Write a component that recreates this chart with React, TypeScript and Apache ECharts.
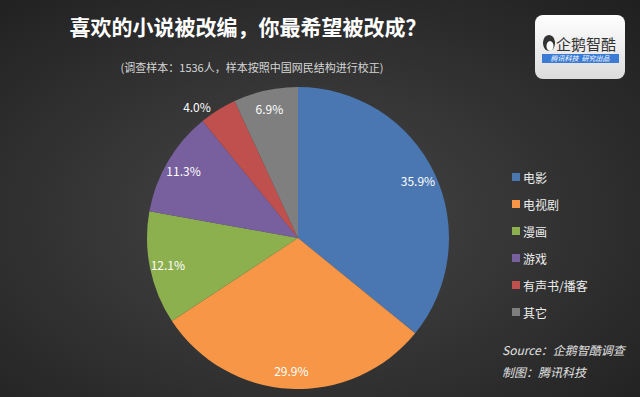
import React, { useEffect, useRef } from "react";
import * as echarts from "echarts";

const categories = ["电影", "电视剧", "漫画", "游戏", "有声书/播客", "其它"];
const values = [35.9, 29.9, 12.1, 11.3, 4.0, 6.9];
const colors = ["#4a77b1", "#f79646", "#8db04f", "#785f9e", "#c0504d", "#7f7f7f"];

const title = "喜欢的小说被改编，你最希望被改成？";
const subtitle = "(调查样本：1536人，样本按照中国网民结构进行校正)";
const sourceLine = "Source：企鹅智酷调查";
const madeBy = "制图：腾讯科技";

export default function App() {
  const ref = useRef<HTMLDivElement>(null);
  useEffect(() => {
    if (!ref.current) return;
    const chart = echarts.init(ref.current, null, { renderer: "svg" });
    const center = [298, 238];
    const R = 151;
    chart.setOption({
      animation: false,
      backgroundColor: {
        type: "radial",
        x: 0.47,
        y: 0.55,
        r: 0.75,
        colorStops: [
          { offset: 0, color: "#474747" },
          { offset: 1, color: "#202020" },
        ],
      },
      title: [
        {
          text: title,
          left: 243,
          top: 10,
          textAlign: "center",
          textStyle: { color: "#ffffff", fontSize: 21, fontWeight: "bold", fontFamily: "Noto Sans CJK SC" },
        },
        {
          text: subtitle,
          left: 247,
          top: 56,
          textAlign: "center",
          textStyle: { color: "#d6d6d6", fontSize: 11, fontWeight: "normal", fontFamily: "Noto Sans CJK SC" },
        },
      ],
      legend: {
        orient: "vertical",
        left: 507,
        top: 166,
        itemWidth: 8,
        itemHeight: 8,
        itemGap: 15,
        icon: "rect",
        data: categories,
        textStyle: { color: "#eeeeee", fontSize: 12, fontFamily: "Noto Sans CJK SC", padding: [0, 0, 0, -2] },
      },
      series: [
        {
          type: "pie",
          name: "main",
          center,
          radius: [0, R],
          startAngle: 90,
          clockwise: true,
          label: { show: false },
          labelLine: { show: false },
          itemStyle: { borderWidth: 0 },
          data: categories.map((c, i) => ({
            name: c,
            value: values[i],
            itemStyle: { color: colors[i] },
            label:
              i === 4
                ? {
                    show: true,
                    position: "outside",
                    formatter: (p: any) => p.value.toFixed(1) + "%",
                    color: "#ffffff",
                    fontSize: 12,
                    fontFamily: "Noto Sans CJK SC",
                  }
                : { show: false },
            labelLine: i === 4 ? { show: false, length: 4, length2: 0 } : { show: false },
          })),
        },
        {
          type: "pie",
          name: "labels",
          center,
          radius: [0, R * 1.72],
          startAngle: 90,
          clockwise: true,
          silent: true,
          z: 5,
          label: {
            show: true,
            position: "inside",
            color: "#ffffff",
            fontSize: 12,
            fontFamily: "Noto Sans CJK SC",
            formatter: (p: any) => p.value.toFixed(1) + "%",
          },
          labelLine: { show: false },
          itemStyle: { color: "rgba(0,0,0,0)", borderWidth: 0 },
          data: categories.map((c, i) => ({
            name: c,
            value: values[i],
            label: i === 4 ? { show: false } : undefined,
          })),
        },
      ],
      graphic: [
        {
          type: "rect",
          shape: { x: 535, y: 15, width: 90, height: 64, r: 8 },
          style: {
            fill: {
              type: "linear",
              x: 0,
              y: 0,
              x2: 0,
              y2: 1,
              colorStops: [
                { offset: 0, color: "#ffffff" },
                { offset: 1, color: "#dcdcdc" },
              ],
            },
          },
        },
        {
          type: "ellipse",
          shape: { cx: 549, cy: 43, rx: 6, ry: 8 },
          style: { fill: "#333333" },
        },
        {
          type: "ellipse",
          shape: { cx: 550, cy: 46, rx: 3.5, ry: 5 },
          style: { fill: "#ffffff" },
        },
        {
          type: "text",
          x: 556,
          y: 36,
          style: { text: "企鹅智酷", fill: "#333333", fontSize: 15, fontFamily: "Noto Sans CJK SC" },
        },
        {
          type: "rect",
          shape: { x: 542, y: 54, width: 77, height: 9 },
          style: { fill: "#3b7bd4" },
        },
        {
          type: "text",
          x: 580,
          y: 54.5,
          style: {
            text: "腾讯科技  研究出品",
            fill: "#ffffff",
            fontSize: 7,
            fontStyle: "italic",
            align: "center",
            fontFamily: "Noto Sans CJK SC",
          },
        },
        {
          type: "text",
          x: 502,
          y: 343,
          style: { text: sourceLine, fill: "#e0e0e0", fontSize: 12, fontStyle: "italic", fontFamily: "Noto Sans CJK SC" },
        },
        {
          type: "text",
          x: 502,
          y: 365,
          style: { text: madeBy, fill: "#e0e0e0", fontSize: 12, fontStyle: "italic", fontFamily: "Noto Sans CJK SC" },
        },
      ],
    });
    return () => chart.dispose();
  }, []);
  return <div ref={ref} style={{ width: 640, height: 397, position: "absolute", left: 0, top: 0 }} />;
}
